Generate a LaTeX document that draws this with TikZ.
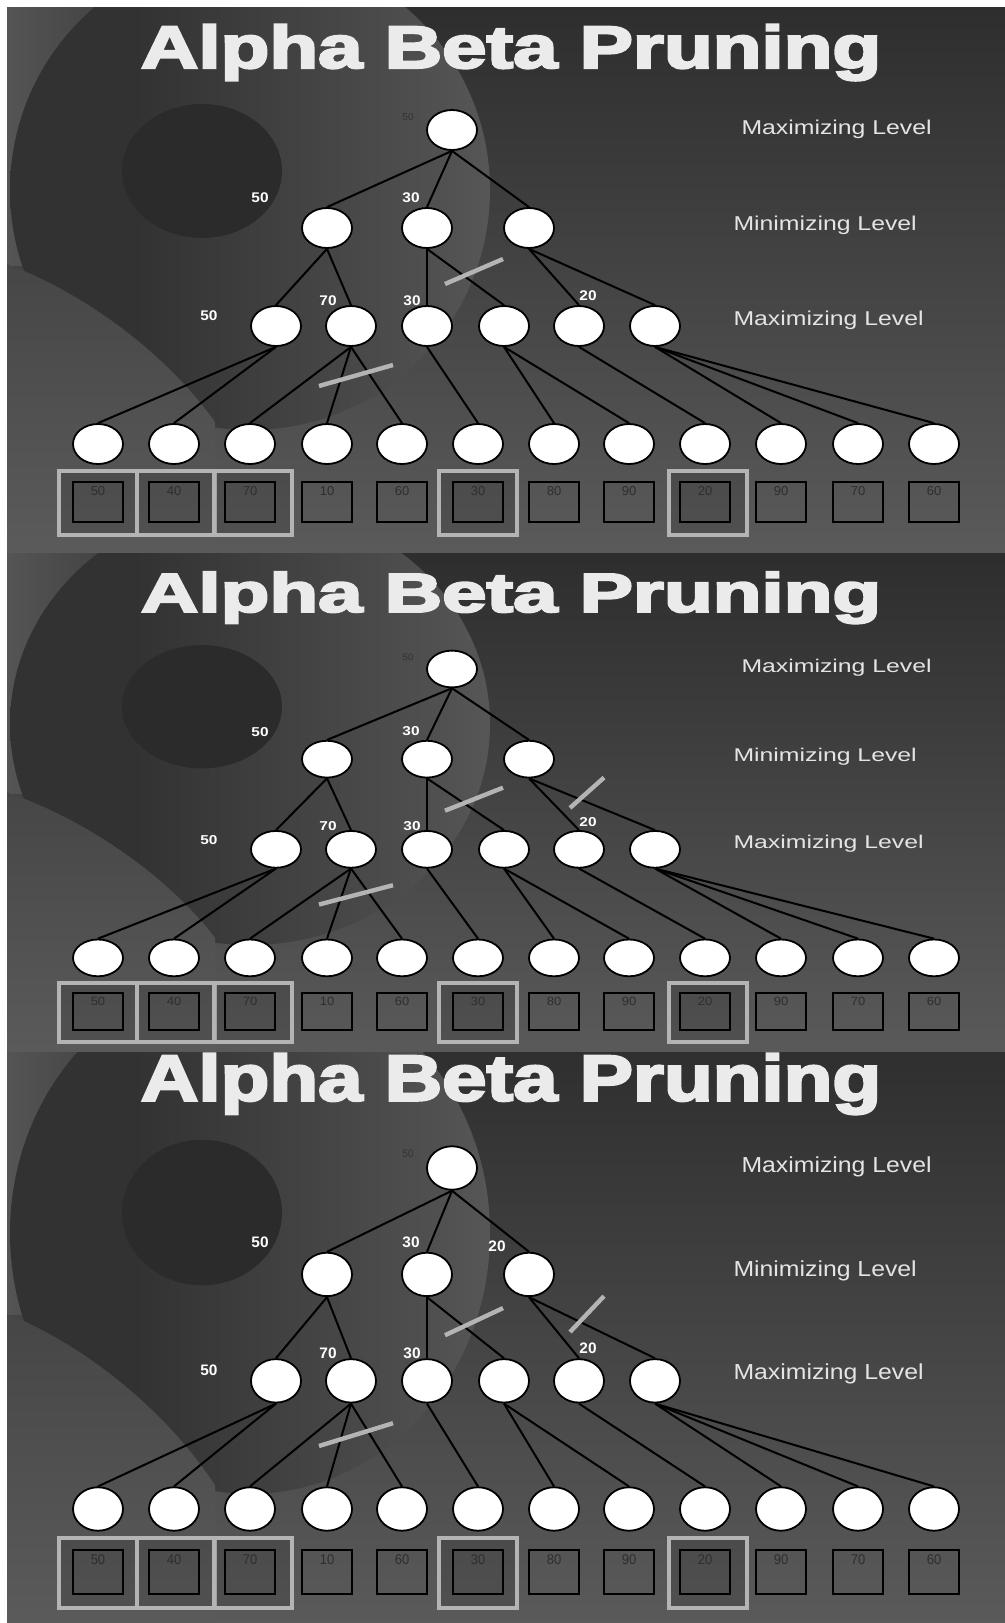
\documentclass[tikz,border=0pt]{standalone}
\usepackage{fontspec}
\setmainfont{Liberation Sans}
\newfontfamily\titlefont{Liberation Sans}[BoldFeatures={FakeBold=3.5}]
\usetikzlibrary{shapes.geometric}

\definecolor{bgdark}{HTML}{2A2A2A}
\definecolor{bglow}{HTML}{5E5E5E}
\definecolor{bgedge}{HTML}{565656}
\definecolor{rimlight}{HTML}{6A6A6A}
\definecolor{spotdark}{HTML}{323232}
\definecolor{holedark}{HTML}{2B2B2B}
\definecolor{bandtop}{HTML}{464646}
\definecolor{titlegray}{HTML}{EBEBEB}
\definecolor{labelgray}{HTML}{E4E4E4}
\definecolor{cutgray}{HTML}{B4B4B4}
\definecolor{numgray}{HTML}{2E2E2E}
\definecolor{rootnum}{HTML}{333333}

\pgfdeclarehorizontalshading{sphererim}{100bp}{color(0bp)=(spotdark); color(38bp)=(spotdark); color(70bp)=(rimlight!55!spotdark); color(92bp)=(rimlight); color(100bp)=(rimlight)}

% one slide of the alpha-beta tree: #1 = name prefix, #2 = stage
\newcommand{\abpanel}[2]{%
  % background
  \shade[top color=bgdark, middle color=bgdark, bottom color=bglow] (0,-40) rectangle (1005,600);
  \shade[left color=bgedge, right color=bgdark] (0,-40) rectangle (240,265);
  \shade[shading=sphererim] (250,190) circle (240);
  \fill[holedark] (202,171) ellipse (80 and 67);
  \shade[top color=bandtop, bottom color=bglow] (0,262) .. controls (70,285) and (160,345) .. (215,422) -- (215,600) -- (0,600) -- cycle;
  % title and level names
  \node[titletext] (#1title) at (511,68) {Alpha Beta Pruning};
  \node[leveltext] (#1lvla) at (741,134) {Maximizing Level};
  \node[leveltext] (#1lvlb) at (733,230) {Minimizing Level};
  \node[leveltext] (#1lvlc) at (733,325) {Maximizing Level};
  % highlighted leaves
  \node[hlcell] (#1hl1) at (98,503) {};
  \node[hlcell] (#1hl2) at (176,503) {};
  \node[hlcell] (#1hl3) at (253,503) {};
  \node[hlcell] (#1hl6) at (478,503) {};
  \node[hlcell] (#1hl9) at (708,503) {};
  % tree nodes
  \node[treenode] (#1root) at (452,130) {};
  \node[treenode] (#1min1) at (327,228) {};
  \node[treenode] (#1min2) at (427,228) {};
  \node[treenode] (#1min3) at (529,228) {};
  \node[treenode] (#1max1) at (276,326) {};
  \node[treenode] (#1max2) at (351,326) {};
  \node[treenode] (#1max3) at (427,326) {};
  \node[treenode] (#1max4) at (504,326) {};
  \node[treenode] (#1max5) at (579,326) {};
  \node[treenode] (#1max6) at (655,326) {};
  \node[treenode] (#1leaf1) at (98,444) {};
  \node[treenode] (#1leaf2) at (174,444) {};
  \node[treenode] (#1leaf3) at (250,444) {};
  \node[treenode] (#1leaf4) at (327,444) {};
  \node[treenode] (#1leaf5) at (402,444) {};
  \node[treenode] (#1leaf6) at (478,444) {};
  \node[treenode] (#1leaf7) at (554,444) {};
  \node[treenode] (#1leaf8) at (629,444) {};
  \node[treenode] (#1leaf9) at (705,444) {};
  \node[treenode] (#1leaf10) at (781,444) {};
  \node[treenode] (#1leaf11) at (858,444) {};
  \node[treenode] (#1leaf12) at (934,444) {};
  % leaf values
  \node[valbox, label={[boxnum]north:50}] (#1box1) at (98,502) {};
  \node[valbox, label={[boxnum]north:40}] (#1box2) at (174,502) {};
  \node[valbox, label={[boxnum]north:70}] (#1box3) at (250,502) {};
  \node[valbox, label={[boxnum]north:10}] (#1box4) at (327,502) {};
  \node[valbox, label={[boxnum]north:60}] (#1box5) at (402,502) {};
  \node[valbox, label={[boxnum]north:30}] (#1box6) at (478,502) {};
  \node[valbox, label={[boxnum]north:80}] (#1box7) at (554,502) {};
  \node[valbox, label={[boxnum]north:90}] (#1box8) at (629,502) {};
  \node[valbox, label={[boxnum]north:20}] (#1box9) at (705,502) {};
  \node[valbox, label={[boxnum]north:90}] (#1box10) at (781,502) {};
  \node[valbox, label={[boxnum]north:70}] (#1box11) at (858,502) {};
  \node[valbox, label={[boxnum]north:60}] (#1box12) at (934,502) {};
  % edges
  \draw[edge] (#1root.south) -- (#1min1.north);
  \draw[edge] (#1root.south) -- (#1min2.north);
  \draw[edge] (#1root.south) -- (#1min3.north);
  \draw[edge] (#1min1.south) -- (#1max1.north);
  \draw[edge] (#1min1.south) -- (#1max2.north);
  \draw[edge] (#1min2.south) -- (#1max3.north);
  \draw[edge] (#1min2.south) -- (#1max4.north);
  \draw[edge] (#1min3.south) -- (#1max5.north);
  \draw[edge] (#1min3.south) -- (#1max6.north);
  \draw[edge] (#1max1.south) -- (#1leaf1.north);
  \draw[edge] (#1max1.south) -- (#1leaf2.north);
  \draw[edge] (#1max2.south) -- (#1leaf3.north);
  \draw[edge] (#1max2.south) -- (#1leaf4.north);
  \draw[edge] (#1max2.south) -- (#1leaf5.north);
  \draw[edge] (#1max3.south) -- (#1leaf6.north);
  \draw[edge] (#1max4.south) -- (#1leaf7.north);
  \draw[edge] (#1max4.south) -- (#1leaf8.north);
  \draw[edge] (#1max5.south) -- (#1leaf9.north);
  \draw[edge] (#1max6.south) -- (#1leaf10.north);
  \draw[edge] (#1max6.south) -- (#1leaf11.north);
  \draw[edge] (#1max6.south) -- (#1leaf12.north);
  % backed-up values
  \node[rootval] (#1vroot) at (408,117) {50};
  \node[val] (#1vmin1) at (260,198) {50};
  \node[val] (#1vmin2) at (411,198) {30};
  \node[val] (#1vmax1) at (209,316) {50};
  \node[val] (#1vmax2) at (328,301) {70};
  \node[val] (#1vmax3) at (412,301) {30};
  \node[val] (#1vmax5) at (588,296) {20};
  % cut-offs
  \draw[cut] (445,284) -- (503,259);
  \draw[cut] (319,386) -- (393,365);
  \ifnum#2>1 \draw[cut] (570,281) -- (604,248); \fi
  \ifnum#2>2 \node[val] (#1vmin3) at (497,202) {20}; \fi
}

\begin{document}
\begin{tikzpicture}[x=0.5pt, y=-0.5pt,
  treenode/.style={ellipse, draw=black, line width=0.9pt, fill=white, inner sep=0pt, minimum width=25pt, minimum height=20pt},
  edge/.style={black, line width=1pt},
  valbox/.style={draw=black, line width=1.1pt, inner sep=0pt, minimum width=25pt, minimum height=20pt},
  boxnum/.style={anchor=north, yshift=-1pt, inner sep=1.5pt, text=numgray, font=\fontsize{6.5}{7}\selectfont},
  hlcell/.style={draw=cutgray, line width=2pt, fill=black, fill opacity=0.1, inner sep=0pt, minimum width=39pt, minimum height=32pt},
  cut/.style={cutgray, line width=2.2pt},
  val/.style={text=white, font=\fontsize{7}{8}\selectfont\bfseries, inner sep=0pt, xscale=1.1},
  rootval/.style={text=rootnum, font=\fontsize{5}{6}\selectfont, inner sep=0pt},
  leveltext/.style={anchor=base west, text=labelgray, font=\fontsize{10}{12}\selectfont, inner sep=0pt, xscale=1.24},
  titletext/.style={anchor=base, text=titlegray, font=\titlefont\bfseries\fontsize{30}{36}\selectfont, inner sep=0pt, xscale=1.33}]
\useasboundingbox (0,0) rectangle (1005,1623);
\fill[white] (0,0) rectangle (1005,1623);
% first slide
\begin{scope}
  \clip (7,7) rectangle (1005,553);
  \begin{scope}[transform shape]
    \abpanel{p1}{1}
  \end{scope}
\end{scope}
% second slide
\begin{scope}
  \clip (7,553) rectangle (1005,1052);
  \begin{scope}[shift={(0,549.4)}, yscale=0.92, transform shape]
    \abpanel{p2}{2}
  \end{scope}
\end{scope}
% third slide
\begin{scope}
  \clip (7,1052) rectangle (1005,1623);
  \begin{scope}[shift={(0,1026.8)}, yscale=1.086, transform shape]
    \abpanel{p3}{3}
  \end{scope}
\end{scope}
\end{tikzpicture}
\end{document}
